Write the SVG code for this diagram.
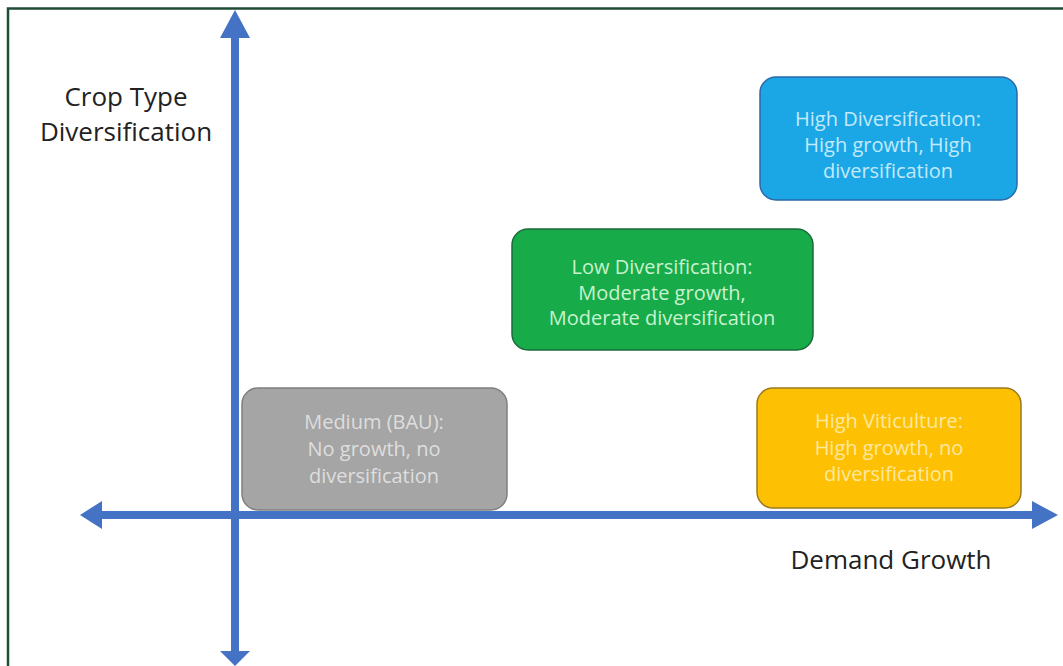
<svg xmlns="http://www.w3.org/2000/svg" width="1063" height="666" viewBox="0 0 1063 666">
<style>
.frame{fill:none;stroke:#1e4d35;stroke-width:2.5}
.axis{stroke:#4472c4;stroke-width:8;fill:none}
.head{fill:#4472c4}
.lbl{font-family:"Open Sans","Liberation Sans",sans-serif;font-size:26px;fill:#222;text-anchor:middle}
.bt{font-family:"Open Sans","Liberation Sans",sans-serif;font-size:20px;text-anchor:middle}
.box{stroke-width:1.5}
</style>
<rect width="1063" height="666" fill="#fff"/>
<path class="frame" d="M8 666 V8.5 H1063"/>
<g id="connectors">
<line class="axis" x1="235" y1="34" x2="235" y2="652"/>
<polygon class="head" points="235,10 220,38 250,38"/>
<polygon class="head" points="235,666 220,651 250,651"/>
<line class="axis" x1="100" y1="515" x2="1034" y2="515"/>
<polygon class="head" points="80,515 102,501 102,529"/>
<polygon class="head" points="1058,515 1032,501 1032,529"/>
</g>
<g id="label-y"><text class="lbl" x="126" y="106">Crop Type</text><text class="lbl" x="126" y="141">Diversification</text></g>
<g id="label-x"><text class="lbl" x="891" y="569">Demand Growth</text></g>
<g id="node-bau">
<rect class="box" x="242" y="388" width="265" height="122" rx="16" fill="#a5a5a5" stroke="#7f7f7f"/>
<text class="bt" fill="#dedede"><tspan x="374" y="429">Medium (BAU):</tspan><tspan x="374" y="456">No growth, no</tspan><tspan x="374" y="483">diversification</tspan></text>
</g>
<g id="node-high-div">
<rect class="box" x="760" y="77" width="257" height="123" rx="16" fill="#1ba7e6" stroke="#2a6aa8"/>
<text class="bt" fill="#c2eafc"><tspan x="888" y="126">High Diversification:</tspan><tspan x="888" y="152">High growth, High</tspan><tspan x="888" y="178">diversification</tspan></text>
</g>
<g id="node-low-div">
<rect class="box" x="512" y="229" width="301" height="121" rx="16" fill="#17ab4a" stroke="#1b6b3a"/>
<text class="bt" fill="#c8f3cf"><tspan x="662" y="274">Low Diversification:</tspan><tspan x="662" y="300">Moderate growth,</tspan><tspan x="662" y="325">Moderate diversification</tspan></text>
</g>
<g id="node-viti">
<rect class="box" x="757" y="388" width="264" height="120" rx="16" fill="#fdc002" stroke="#9a7a20"/>
<text class="bt" fill="#fde8a0"><tspan x="889" y="428">High Viticulture:</tspan><tspan x="889" y="455">High growth, no</tspan><tspan x="889" y="481">diversification</tspan></text>
</g>
</svg>
